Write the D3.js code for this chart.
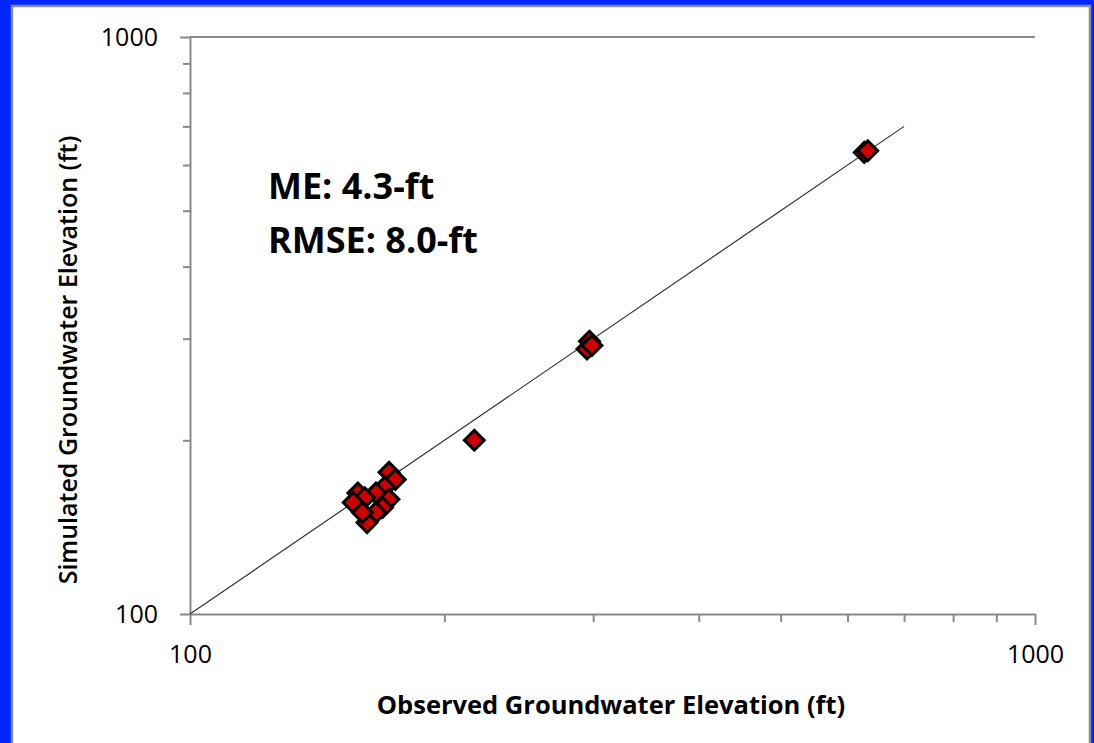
<!DOCTYPE html>
<html>
<head>
<meta charset="utf-8">
<script src="https://cdn.jsdelivr.net/npm/d3@7"></script>
<style>
  body { margin: 0; background: #0026ff; }
  svg { display: block; }
  .tickLabel { font-family: "Open Sans", sans-serif; font-size: 25px; fill: #000; }
</style>
</head>
<body>
<svg width="1094" height="743"></svg>
<script>
// Observed vs simulated groundwater elevation (ft).
var observed  = [172, 175, 170, 166, 158, 161, 156, 172, 169, 166, 162, 160, 217, 297, 295, 299, 628, 634];
var simulated = [176, 171, 166, 162, 162, 159, 156, 158, 153, 150, 144, 150, 200, 297, 288, 292, 631, 635];

var axisDomain = [100, 1000];
var labelledTicks = [100, 1000];
var oneToOne = [100, 700];
var statsLines = ["ME: 4.3-ft", "RMSE: 8.0-ft"];

var width = 1094, height = 743;
var svg = d3.select("svg");

// White slide panel with grey border.
svg.append("rect")
  .attr("x", 0).attr("y", 0)
  .attr("width", width).attr("height", height)
  .attr("fill", "#0026ff");
svg.append("rect")
  .attr("x", 12).attr("y", 6)
  .attr("width", 1078).attr("height", 760)
  .attr("fill", "#fff")
  .attr("stroke", "#8a8a8a")
  .attr("stroke-width", 2.5);

var x = d3.scaleLog().domain(axisDomain).range([190, 1035]);
var y = d3.scaleLog().domain(axisDomain).range([614, 37]);
var tickValues = x.ticks();

// Gridline at the top of the plot.
svg.append("line")
  .attr("x1", x(axisDomain[0])).attr("x2", x(axisDomain[1]))
  .attr("y1", y(axisDomain[1])).attr("y2", y(axisDomain[1]))
  .attr("stroke", "#8a8a8a")
  .attr("stroke-width", 2);

function styleAxis(g) {
  g.select(".domain").attr("stroke", "#8a8a8a").attr("stroke-width", 2);
  g.selectAll(".tick line").attr("stroke", "#8a8a8a").attr("stroke-width", 2);
  g.selectAll(".tick text").attr("class", "tickLabel");
}

var xAxis = svg.append("g")
  .attr("transform", "translate(0," + y(axisDomain[0]) + ")")
  .call(d3.axisBottom(x)
    .tickValues(tickValues)
    .tickSize(8)
    .tickSizeOuter(0)
    .tickPadding(18)
    .tickFormat(function(d) { return labelledTicks.indexOf(d) >= 0 ? d : ""; }));
styleAxis(xAxis);
xAxis.selectAll(".tick line")
  .attr("y2", function(d) { return labelledTicks.indexOf(d) >= 0 ? 11 : 8; });
xAxis.selectAll(".tick text").attr("dy", "0.9em");

var yAxis = svg.append("g")
  .attr("transform", "translate(" + x(axisDomain[0]) + ",0)")
  .call(d3.axisLeft(y)
    .tickValues(tickValues)
    .tickSize(7)
    .tickSizeOuter(0)
    .tickPadding(25)
    .tickFormat(function(d) { return labelledTicks.indexOf(d) >= 0 ? d : ""; }));
styleAxis(yAxis);
yAxis.selectAll(".tick line")
  .attr("x2", function(d) { return labelledTicks.indexOf(d) >= 0 ? -10 : -7; });

// 1:1 line.
svg.append("line")
  .attr("x1", x(oneToOne[0])).attr("y1", y(oneToOne[0]))
  .attr("x2", x(oneToOne[1])).attr("y2", y(oneToOne[1]))
  .attr("stroke", "#333")
  .attr("stroke-width", 1.2);

// Points as red diamonds.
var symbol = d3.symbol().type(d3.symbolSquare).size(196);
svg.append("g").selectAll("path")
  .data(observed)
  .enter().append("path")
    .attr("d", symbol)
    .attr("transform", function(d, i) {
      return "translate(" + x(d) + "," + y(simulated[i]) + ") rotate(45)";
    })
    .attr("fill", "#cc0000")
    .attr("stroke", "#000")
    .attr("stroke-width", 3);

// Error statistics.
svg.append("g").selectAll("text")
  .data(statsLines)
  .enter().append("text")
    .attr("x", 268)
    .attr("y", function(d, i) { return 199 + i * 54; })
    .attr("font-family", "'Open Sans', sans-serif")
    .attr("font-weight", "bold")
    .attr("font-size", 36)
    .text(function(d) { return d; });

// Axis titles.
svg.append("text")
  .attr("x", 611).attr("y", 714)
  .attr("text-anchor", "middle")
  .attr("font-family", "'Open Sans', sans-serif")
  .attr("font-weight", "bold")
  .attr("font-size", 25.5)
  .text("Observed Groundwater Elevation (ft)");

svg.append("text")
  .attr("transform", "translate(77,360) rotate(-90)")
  .attr("text-anchor", "middle")
  .attr("font-family", "'Open Sans', sans-serif")
  .attr("font-weight", 600)
  .attr("font-size", 25)
  .text("Simulated Groundwater Elevation (ft)");
</script>
</body>
</html>
